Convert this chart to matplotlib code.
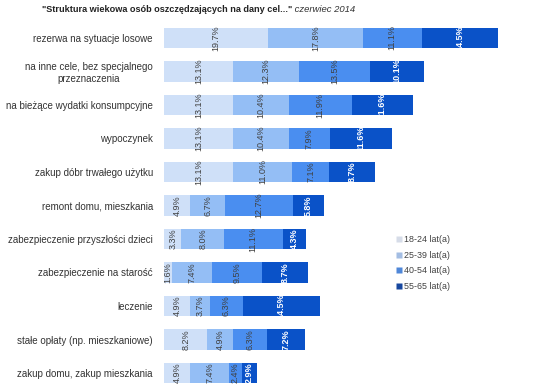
import matplotlib
matplotlib.use("Agg")
import matplotlib.pyplot as plt
import numpy as np
from matplotlib.lines import Line2D

categories = [
    "rezerwa na sytuacje losowe",
    "na inne cele, bez specjalnego\nprzeznaczenia",
    "na bieżące wydatki konsumpcyjne",
    "wypoczynek",
    "zakup dóbr trwałego użytku",
    "remont domu, mieszkania",
    "zabezpieczenie przyszłości dzieci",
    "zabezpieczenie na starość",
    "leczenie",
    "stałe opłaty (np. mieszkaniowe)",
    "zakup domu, zakup mieszkania",
]
series_names = ["18-24 lat(a)", "25-39 lat(a)", "40-54 lat(a)", "55-65 lat(a)"]
age_18_24 = [19.7, 13.1, 13.1, 13.1, 13.1, 4.9, 3.3, 1.6, 4.9, 8.2, 4.9]
age_25_39 = [17.8, 12.3, 10.4, 10.4, 11.0, 6.7, 8.0, 7.4, 3.7, 4.9, 7.4]
age_40_54 = [11.1, 13.5, 11.9, 7.9, 7.1, 12.7, 11.1, 9.5, 6.3, 6.3, 2.4]
age_55_65 = [14.5, 10.1, 11.6, 11.6, 8.7, 5.8, 4.3, 8.7, 14.5, 7.2, 2.9]
series = [age_18_24, age_25_39, age_40_54, age_55_65]

colors = ["#cfe0f8", "#94bef5", "#4a8ef0", "#0a52c8"]
legend_colors = ["#d6dce8", "#a3bde3", "#4f87d8", "#17479f"]
text_colors = ["#404040", "#404040", "#404040", "white"]

plt.rcParams["font.family"] = ["Liberation Sans", "DejaVu Sans"]

W, H = 540, 389
fig = plt.figure(figsize=(W / 100, H / 100), dpi=100)
ax_left, ax_right = 164, 540
ax_top, ax_bot = 21.5, 389
ax = fig.add_axes([ax_left / W, 1 - ax_bot / H, (ax_right - ax_left) / W, (ax_bot - ax_top) / H])
px_per_unit = 5.3
ax.set_xlim(0, (ax_right - ax_left) / px_per_unit)
row_px = 33.5
top_val = -(38 - ax_top) / row_px
ax.set_ylim(top_val + (ax_bot - ax_top) / row_px, top_val)

y = np.arange(len(categories))
left = np.zeros(len(categories))
for k, vals in enumerate(series):
    vals = np.array(vals)
    ax.barh(y, vals, left=left, height=0.62, color=colors[k], edgecolor="none")
    for i, v in enumerate(vals):
        ax.text(left[i] + v / 2, y[i], f"{v:.1f}%", rotation=90, ha="center", va="center",
                fontsize=6.5, color=text_colors[k],
                fontweight="bold" if k == 3 else "normal")
    left += vals

ax.set_yticks(y)
ax.set_yticklabels(categories, fontsize=7.0, color="#333333", multialignment="center")
ax.tick_params(axis="y", length=0, pad=8)
ax.set_xticks([])
for s in ax.spines.values():
    s.set_visible(False)

handles = [Line2D([], [], marker="s", linestyle="none", markersize=4,
                  markerfacecolor=c, markeredgecolor="none") for c in legend_colors]
fig.legend(handles, series_names, loc="upper left", bbox_to_anchor=(396 / W, 1 - 235 / H),
           frameon=False, fontsize=6.4, handlelength=0.6, handletextpad=0.35,
           labelspacing=0.75, borderaxespad=0, borderpad=0, labelcolor="#404040")

t1 = fig.text(42 / W, 1 - 10 / H, "\"Struktura wiekowa osób oszczędzających na dany cel...\"",
              fontsize=6.55, fontweight="bold", color="#222222", ha="left", va="center")
ax.annotate(" czerwiec 2014", xy=(1, 0.5), xycoords=t1, ha="left", va="center",
            fontsize=6.8, fontstyle="italic", color="#333333", annotation_clip=False)

fig.savefig("out.png", dpi=100)
